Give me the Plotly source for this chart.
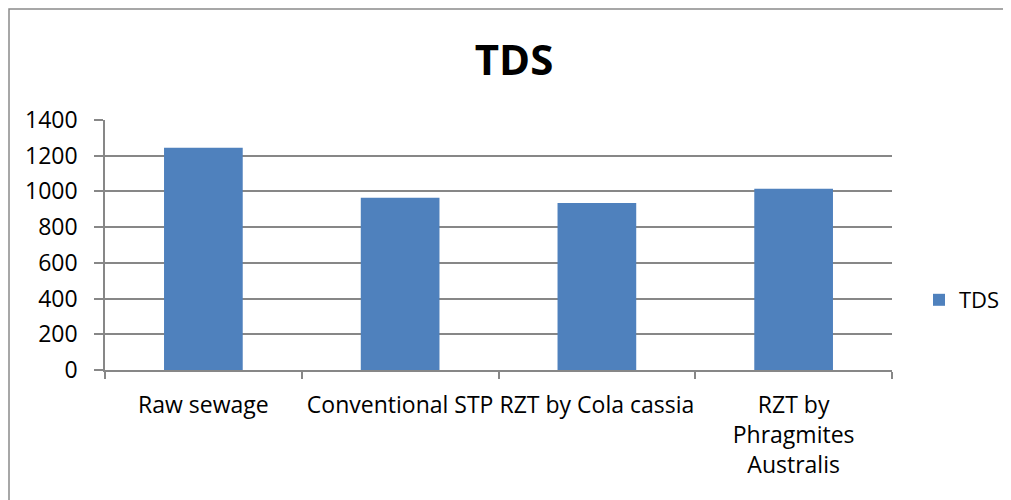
import plotly.graph_objects as go

categories = ["Raw sewage", "Conventional STP", "RZT by Cola cassia", "RZT by Phragmites Australis"]
tick_labels = ["Raw sewage", "Conventional STP", "RZT by Cola cassia", "RZT by<br>Phragmites<br>Australis"]
tds_values = [1245, 965, 935, 1015]
y_ticks = [0, 200, 400, 600, 800, 1000, 1200, 1400]

FONT = "Open Sans"
GRID = "#878787"

fig = go.Figure()
fig.add_trace(go.Bar(x=categories, y=tds_values, name="TDS",
                     marker=dict(color="#4F81BD", line=dict(width=0))))

# page has an 8px body margin; coordinates below are figure coordinates
W, H = 1003, 492
L, T = 97, 112
pw, ph = 787, 250
R, B = W - L - pw, H - T - ph

fig.update_layout(
    width=W, height=H,
    margin=dict(l=L, r=R, t=T, b=B, autoexpand=False),
    paper_bgcolor="white", plot_bgcolor="white",
    bargap=0.6,
    font=dict(family=FONT, size=23, color="#000000"),
    title=dict(text="<b>TDS</b>", x=506 / W, xref="container", xanchor="center",
               y=1 - 52 / H, yref="container", yanchor="middle",
               font=dict(family=FONT, size=42, color="#000")),
    showlegend=True,
    legend=dict(x=(911 - L) / pw, xref="paper", y=(T + ph - 292) / ph, yanchor="middle",
                xanchor="left", font=dict(family=FONT, size=22), itemwidth=30,
                bgcolor="rgba(0,0,0,0)"),
    xaxis=dict(tickvals=categories, ticktext=tick_labels, tickson="boundaries",
               ticks="outside", ticklen=7, tickwidth=1.5, tickcolor=GRID,
               showline=True, linecolor=GRID, linewidth=1.5, showgrid=False,
               tickangle=0, automargin=False,
               ticklabelstandoff=14, tickfont=dict(family=FONT, size=23)),
    yaxis=dict(range=[0, 1400], tickvals=y_ticks, ticks="outside", ticklen=9,
               tickwidth=1.5, tickcolor=GRID, showline=True, linecolor=GRID,
               linewidth=1.5, showgrid=True, gridcolor=GRID, gridwidth=1.5,
               zeroline=False, automargin=False,
               ticklabelstandoff=12, tickfont=dict(family=FONT, size=23)),
)

# outer chart border (extends beyond the visible page on right/bottom)
fig.add_shape(type="rect", xref="paper", yref="paper",
              x0=(1 - L) / pw, x1=(W + 20 - L) / pw,
              y0=-(B + 20) / ph, y1=(T + ph - 1) / ph,
              line=dict(color="#8a8a8a", width=1.5), fillcolor="rgba(0,0,0,0)", layer="below")

fig.write_html("out.html")
